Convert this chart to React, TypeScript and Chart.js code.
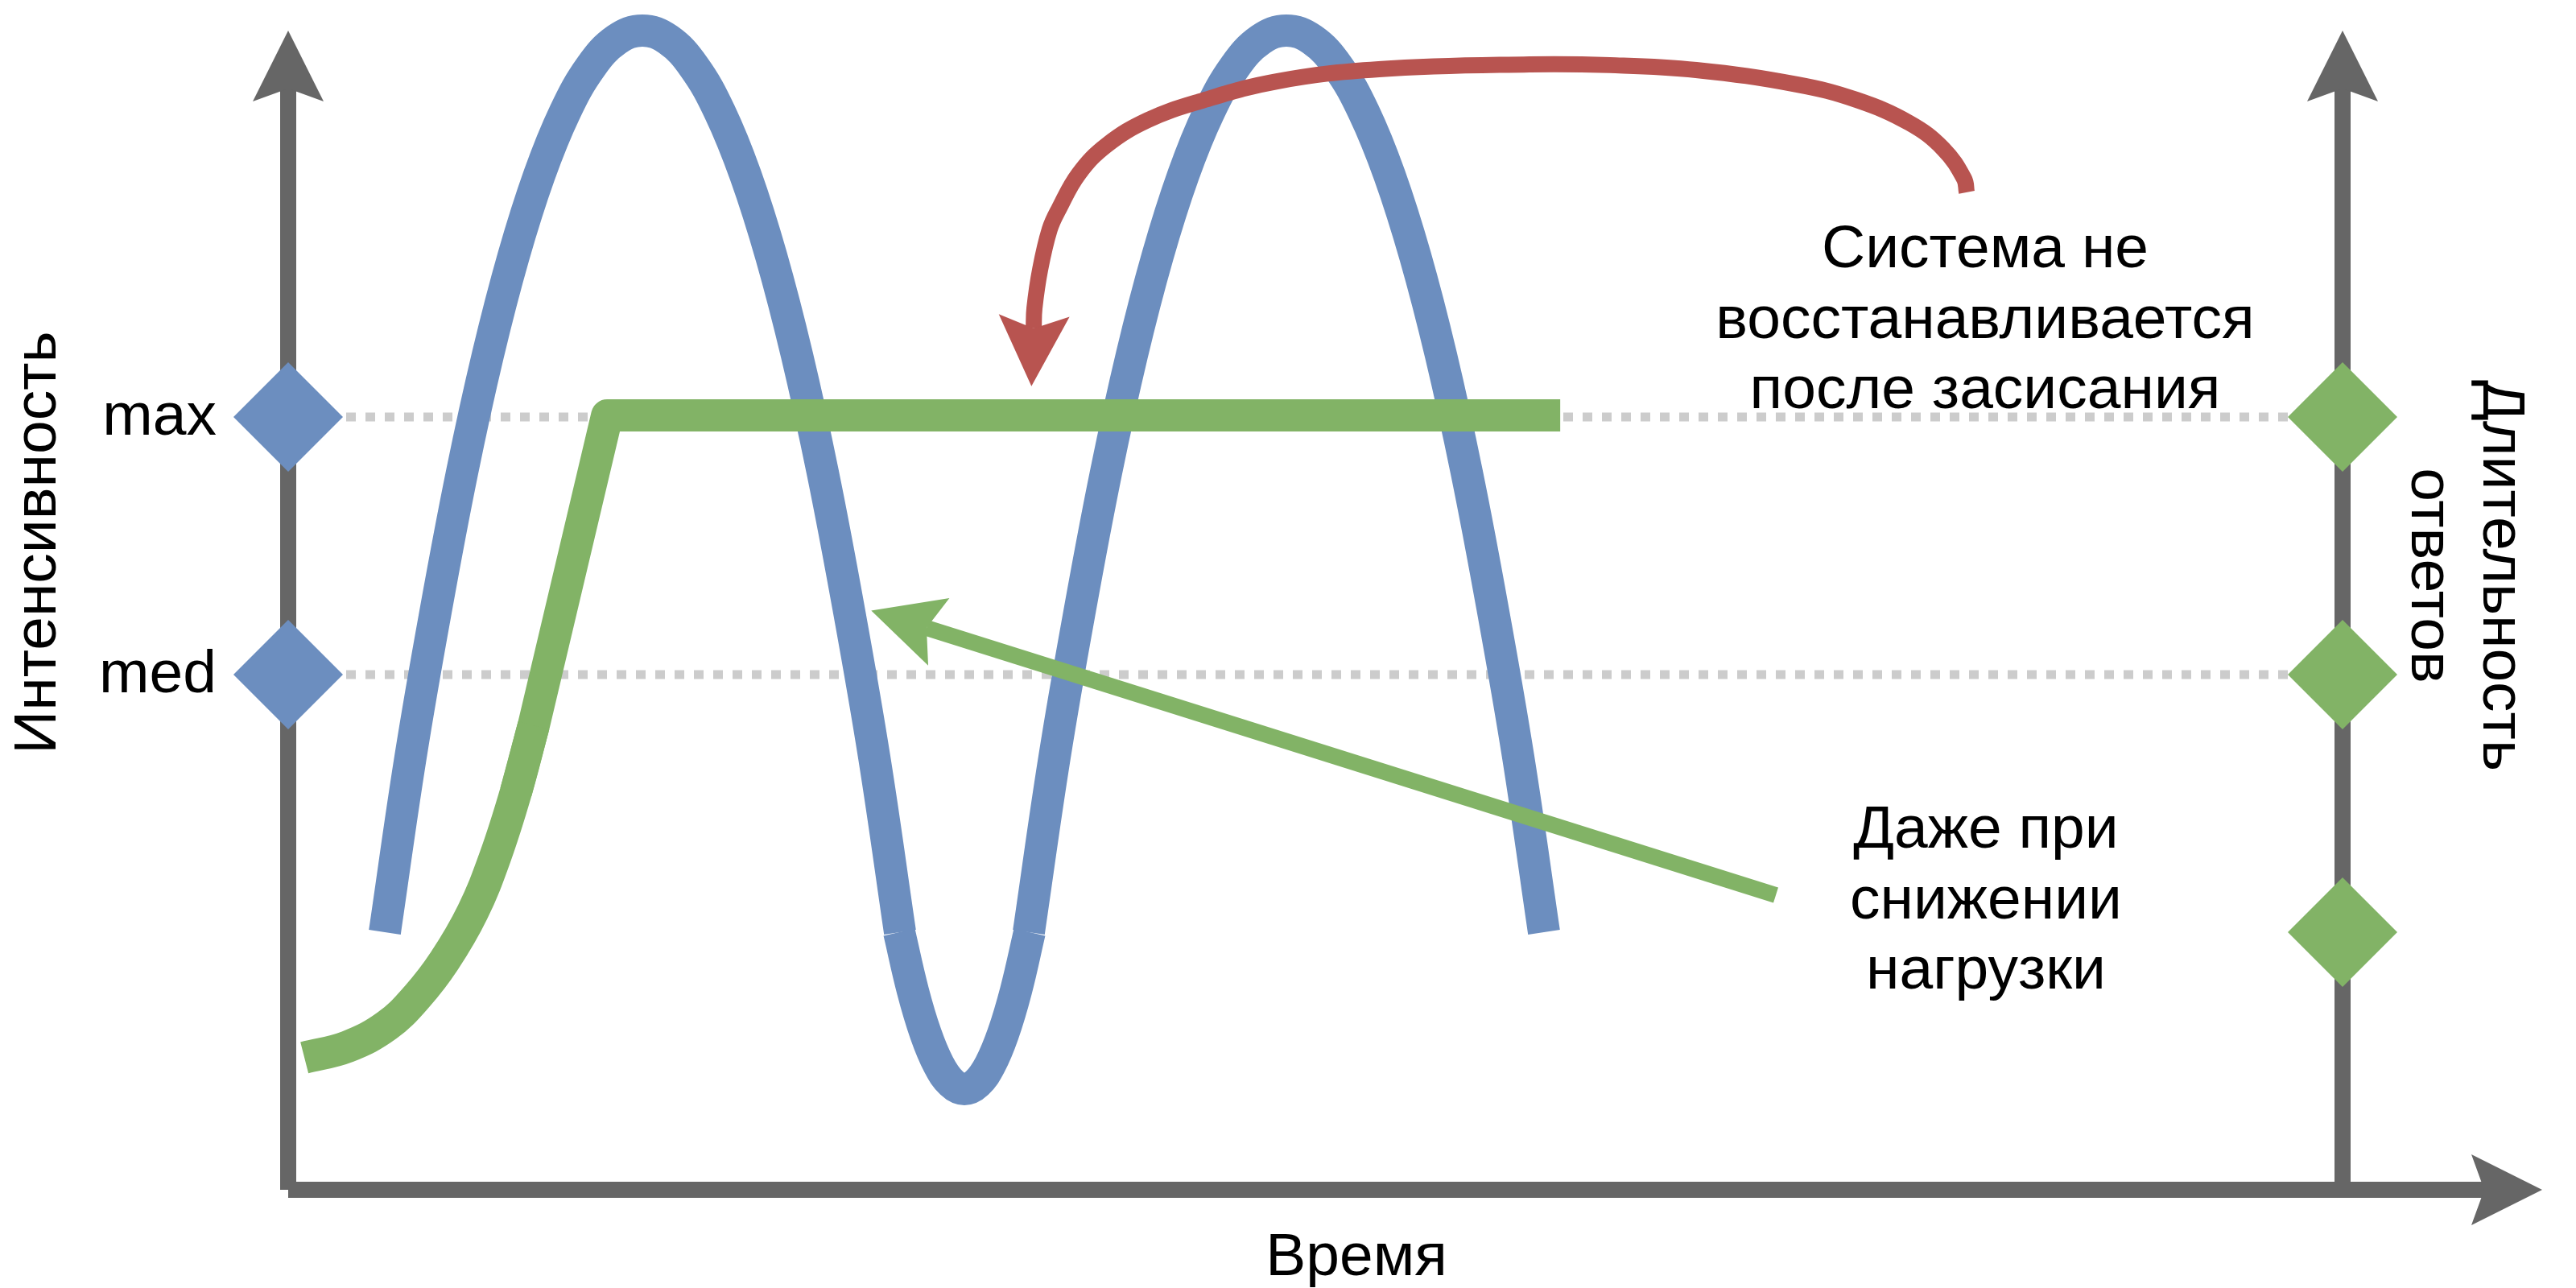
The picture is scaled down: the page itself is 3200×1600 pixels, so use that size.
import React, { useEffect, useRef } from "react";
import { Chart, registerables } from "chart.js";

Chart.register(...registerables);

// ---- data (x: time units, y: level units; 10 = low, 20 = med, 30 = max) ----
const X_MAX = 79.75; // position of right (response-time) axis
const Y_MAX = 45;

const levelNames = ["med", "max"];
const intensityLevels = [20, 30];
const responseLevels = [10, 20, 30];

// blue: load intensity (two humps joined by a dip)
const hump1Time = [3.75, 4.75, 5.75, 6.75, 7.75, 8.75, 9.75, 10.75, 11.75, 12.75, 13.75, 14.75, 15.75, 16.75, 17.75, 18.75, 19.75, 20.75, 21.75, 22.75, 23.75];
const hump1Load = [10.0, 16.8, 22.6, 27.85, 32.4, 36.25, 39.4, 41.85, 43.6, 44.65, 45.0, 44.65, 43.6, 41.85, 39.4, 36.25, 32.4, 27.85, 22.6, 16.8, 10.0];
const dipTime = [23.72, 24.25, 24.75, 25.25, 25.75, 26.25, 26.75, 27.25, 27.75, 28.25, 28.78];
const dipLoad = [10.0, 7.72, 6.05, 4.86, 4.15, 3.91, 4.15, 4.86, 6.05, 7.72, 10.0];
const hump2Time = [28.75, 29.75, 30.75, 31.75, 32.75, 33.75, 34.75, 35.75, 36.75, 37.75, 38.75, 39.75, 40.75, 41.75, 42.75, 43.75, 44.75, 45.75, 46.75, 47.75, 48.75];
const hump2Load = [10.0, 16.8, 22.6, 27.85, 32.4, 36.25, 39.4, 41.85, 43.6, 44.65, 45.0, 44.65, 43.6, 41.85, 39.4, 36.25, 32.4, 27.85, 22.6, 16.8, 10.0];

// green: response time (smooth rise, then a straight ramp into the plateau)
const respTime = [0.63, 2.31, 3.84, 5.0, 6.06, 7.16, 8.03, 8.84, 9.53, 12.38, 49.38];
const respValue = [5.13, 5.56, 6.38, 7.5, 8.88, 10.78, 12.91, 15.44, 18.03, 30.06, 30.06];
const RESP_SMOOTH_END = 9; // points [0, 9) are drawn as a smooth curve
const RESP_RAMP_START = 7; // points [7, end) are drawn as straight segments

// red annotation arrow path
const redArrowX = [65.16, 65.06, 64.25, 62.94, 60.88, 58.56, 54.66, 51.31, 48.19, 42.34, 38.38, 35.38, 33.38, 31.78, 30.69, 29.91, 29.56, 29.19, 28.97, 28.94];
const redArrowY = [38.72, 39.25, 40.41, 41.41, 42.31, 42.91, 43.47, 43.66, 43.69, 43.5, 43.03, 42.25, 41.53, 40.56, 39.44, 38.06, 37.28, 35.72, 34.22, 33.44];

// green annotation arrow
const greenArrowX = [57.75, 24.78];
const greenArrowY = [11.44, 21.81];

// axes
const leftAxisX = [0, 0];
const leftAxisY = [0, 42.75];
const bottomAxisX = [0, 85.25];
const bottomAxisY = [0, 0];
const rightAxisX = [X_MAX, X_MAX];
const rightAxisY = [0, 42.75];

const noteTop = ["Система не", "восстанавливается", "после засисания"];
const noteBottom = ["Даже при", "снижении", "нагрузки"];
const yTitle = "Интенсивность";
const y2Title = ["Длительность", "ответов"];
const xTitle = "Время";

// ---- styles ----
const BLUE = "#6c8ebf";
const GREEN = "#82b366";
const RED = "#b85450";
const AXIS = "#666666";
const GUIDE = "#cccccc";
const FONT = '75px "Liberation Sans", Arial, sans-serif';

const pts = (xs: number[], ys: number[]) => xs.map((x, i) => ({ x, y: ys[i] }));

function lineDs(label: string, data: any[], color: string, width: number, extra: any = {}) {
  return {
    type: "line",
    label,
    data,
    borderColor: color,
    backgroundColor: color,
    borderWidth: width,
    pointRadius: 0,
    pointHoverRadius: 0,
    fill: false,
    clip: false,
    tension: 0,
    borderCapStyle: "butt",
    borderJoinStyle: "round",
    ...extra,
  };
}

function diamondDs(label: string, data: any[], color: string) {
  return {
    type: "line",
    label,
    data,
    showLine: false,
    pointStyle: "rectRot",
    pointRadius: 68,
    pointHoverRadius: 68,
    pointBorderWidth: 0,
    pointBackgroundColor: color,
    borderColor: color,
    backgroundColor: color,
    clip: false,
    order: 1,
  };
}

const arrowHeads = {
  id: "arrowHeads",
  afterDatasetsDraw(chart: any) {
    const ctx = chart.ctx;
    chart.data.datasets.forEach((ds: any, i: number) => {
      if (!ds.arrowHead) return;
      const meta = chart.getDatasetMeta(i);
      const n = meta.data.length;
      const a = meta.data[n - 2];
      const b = meta.data[n - 1];
      let dx = b.x - a.x;
      let dy = b.y - a.y;
      const len = Math.hypot(dx, dy) || 1;
      dx /= len;
      dy /= len;
      const tx = b.x + dx * 72;
      const ty = b.y + dy * 72;
      const bx = tx - dx * 88;
      const by = ty - dy * 88;
      const nx = -dy;
      const ny = dx;
      ctx.save();
      ctx.fillStyle = ds.borderColor;
      ctx.beginPath();
      ctx.moveTo(tx, ty);
      ctx.lineTo(bx + nx * 44, by + ny * 44);
      ctx.lineTo(b.x, b.y);
      ctx.lineTo(bx - nx * 44, by - ny * 44);
      ctx.closePath();
      ctx.fill();
      ctx.restore();
    });
  },
};

const texts = {
  id: "texts",
  afterDraw(chart: any) {
    const ctx = chart.ctx;
    const xs = chart.scales.x;
    const ys = chart.scales.y;
    ctx.save();
    ctx.fillStyle = "#000000";
    ctx.font = FONT;
    ctx.textBaseline = "alphabetic";

    // level labels at the left axis
    ctx.textAlign = "right";
    levelNames.forEach((name, i) => {
      ctx.fillText(name, xs.getPixelForValue(0) - 89, ys.getPixelForValue(intensityLevels[i]) + 22);
    });

    // x title
    ctx.textAlign = "center";
    ctx.fillText(xTitle, 1685, 1584);

    // annotation texts
    noteTop.forEach((t, i) => ctx.fillText(t, 2466, 332 + i * 87.5));
    noteBottom.forEach((t, i) => ctx.fillText(t, 2467, 1053 + i * 87.5));

    // left title (rotated)
    ctx.save();
    ctx.translate(69, 674);
    ctx.rotate(-Math.PI / 2);
    ctx.fillText(yTitle, 0, 0);
    ctx.restore();

    // right title (rotated)
    ctx.save();
    ctx.translate(3085, 715);
    ctx.rotate(Math.PI / 2);
    y2Title.forEach((t, i) => ctx.fillText(t, 0, i * 89));
    ctx.restore();

    ctx.restore();
  },
};

export default function App() {
  const ref = useRef<HTMLCanvasElement>(null);

  useEffect(() => {
    document.body.style.margin = "0";
    document.body.style.overflow = "hidden";
    const canvas = ref.current;
    if (!canvas) return;

    const resp = pts(respTime, respValue);

    const datasets: any[] = [
      lineDs("guide max", pts([0, X_MAX], [intensityLevels[1], intensityLevels[1]]), GUIDE, 11, { borderDash: [12, 12], order: 10 }),
      lineDs("guide med", pts([0, X_MAX], [intensityLevels[0], intensityLevels[0]]), GUIDE, 11, { borderDash: [12, 12], order: 10 }),
      lineDs("left axis", pts(leftAxisX, leftAxisY), AXIS, 20, { order: 9, arrowHead: true }),
      lineDs("bottom axis", pts(bottomAxisX, bottomAxisY), AXIS, 20, { order: 9, arrowHead: true }),
      lineDs("right axis", pts(rightAxisX, rightAxisY), AXIS, 20, { order: 9, arrowHead: true }),
      lineDs("load 1", pts(hump1Time, hump1Load), BLUE, 40, { order: 8, tension: 0.4 }),
      lineDs("load dip", pts(dipTime, dipLoad), BLUE, 40, { order: 8, tension: 0.4 }),
      lineDs("load 2", pts(hump2Time, hump2Load), BLUE, 40, { order: 8, tension: 0.4 }),
      lineDs("response rise", resp.slice(0, RESP_SMOOTH_END), GREEN, 40, { order: 7, tension: 0.4 }),
      lineDs("response plateau", resp.slice(RESP_RAMP_START), GREEN, 40, { order: 7, tension: 0 }),
      lineDs("red note", pts(redArrowX, redArrowY), RED, 20, { order: 6, tension: 0.4, arrowHead: true }),
      lineDs("green note", pts(greenArrowX, greenArrowY), GREEN, 20, { order: 5, arrowHead: true }),
      diamondDs("intensity levels", intensityLevels.map((y) => ({ x: 0, y })), BLUE),
      diamondDs("response levels", responseLevels.map((y) => ({ x: X_MAX, y })), GREEN),
    ];

    const chart = new Chart(canvas, {
      type: "line",
      data: { datasets },
      options: {
        responsive: false,
        animation: false,
        devicePixelRatio: 1,
        events: [],
        layout: { autoPadding: false, padding: { left: 358, right: 290, top: 38, bottom: 122 } },
        scales: {
          x: { type: "linear", min: 0, max: X_MAX, display: false },
          y: { type: "linear", min: 0, max: Y_MAX, display: false },
        },
        elements: { line: { capBezierPoints: false } },
        plugins: { legend: { display: false }, tooltip: { enabled: false } },
      } as any,
      plugins: [arrowHeads, texts],
    } as any);

    if ((document as any).fonts && (document as any).fonts.ready) {
      (document as any).fonts.ready.then(() => {
        try { chart.draw(); } catch (e) {}
      });
    }

    return () => chart.destroy();
  }, []);

  return (
    <div style={{ width: 3200, height: 1600, background: "#ffffff" }}>
      <canvas ref={ref} width={3200} height={1600} style={{ display: "block", width: 3200, height: 1600 }} />
    </div>
  );
}
